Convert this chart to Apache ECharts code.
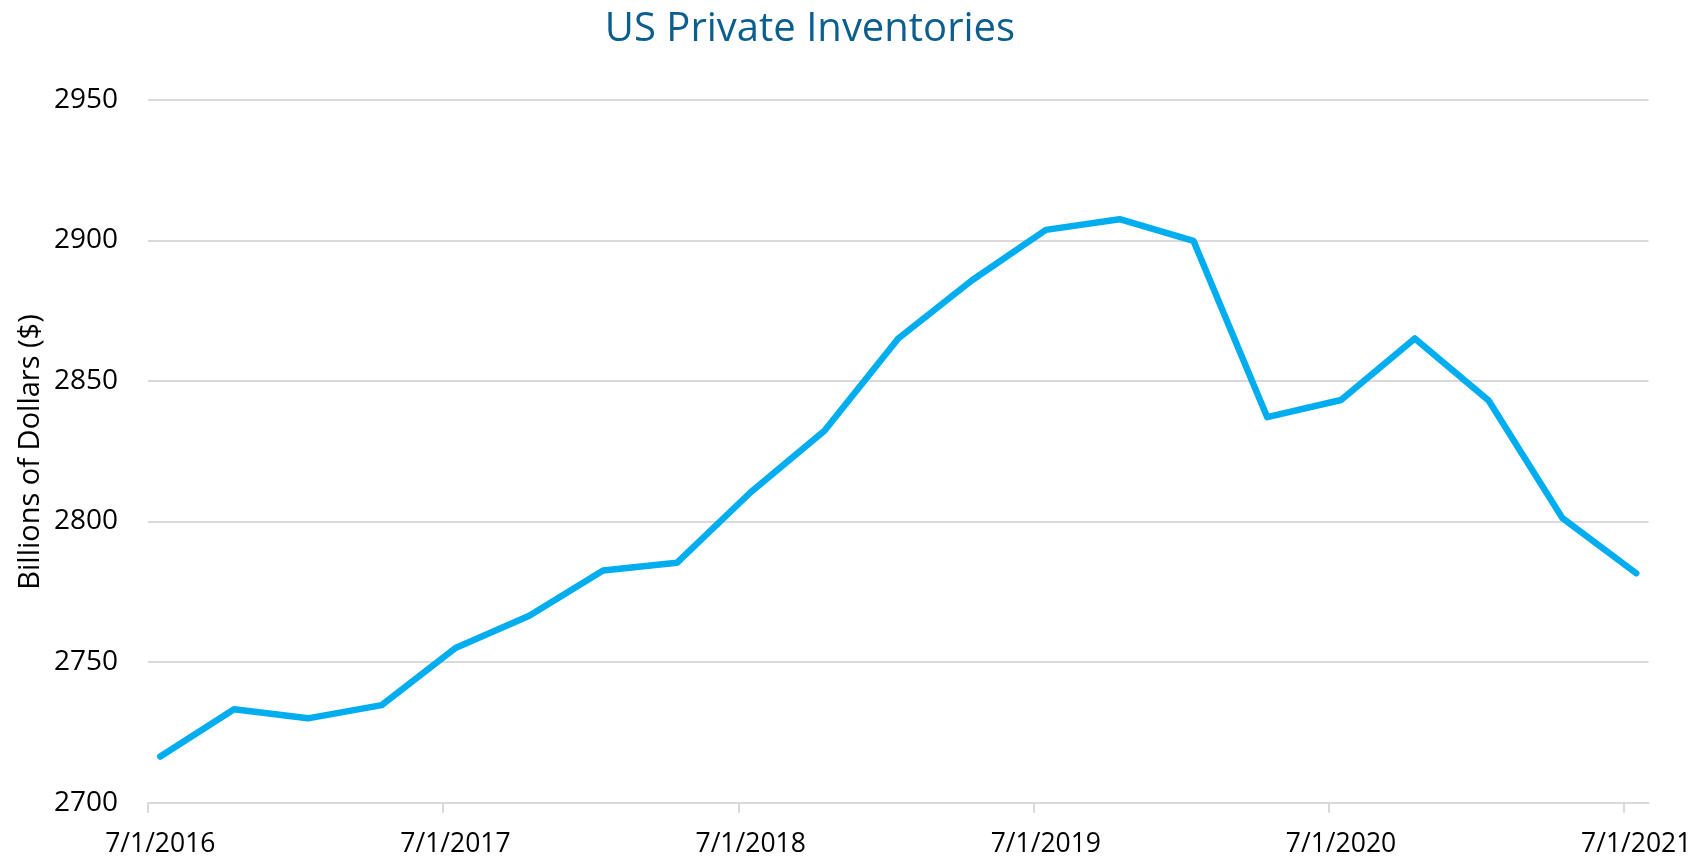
<!DOCTYPE html>
<html>
<head>
<meta charset="utf-8">
<script src="https://cdn.jsdelivr.net/npm/echarts@6/dist/echarts.min.js"></script>
<style>
html,body{margin:0;padding:0;background:#fff;}
#chart{width:1697px;height:858px;}
</style>
</head>
<body>
<div id="chart"></div>
<script>
// Quarterly observation dates (M/D/YYYY)
var dates = ['7/1/2016','10/1/2016','1/1/2017','4/1/2017','7/1/2017','10/1/2017','1/1/2018','4/1/2018',
  '7/1/2018','10/1/2018','1/1/2019','4/1/2019','7/1/2019','10/1/2019','1/1/2020','4/1/2020',
  '7/1/2020','10/1/2020','1/1/2021','4/1/2021','7/1/2021'];
// US private inventories, billions of dollars
var inventories = [2716.4, 2733.2, 2730.0, 2734.7, 2755.0, 2766.5, 2782.6, 2785.3,
  2810.4, 2832.3, 2865.1, 2885.8, 2903.7, 2907.5, 2899.8, 2837.1,
  2843.2, 2865.1, 2843.0, 2801.2, 2781.6];
var xTickLabels = ['7/1/2016','7/1/2017','7/1/2018','7/1/2019','7/1/2020','7/1/2021'];
var yTicks = [2700, 2750, 2800, 2850, 2900, 2950];

var font = '"Open Sans", Lato, sans-serif';
// month index from 7/2016 start; points and labels centered in their month slot (Excel date axis style)
function monthIndex(d){
  var p = d.split('/');
  return (parseInt(p[2],10) - 2016) * 12 + (parseInt(p[0],10) - 7);
}
var seriesData = dates.map(function(d, i){ return [monthIndex(d) + 0.5, inventories[i]]; });
var tickVals = xTickLabels.map(monthIndex);
var labelVals = tickVals.map(function(v){ return v + 0.5; });

var chart = echarts.init(document.getElementById('chart'));
chart.setOption({
  animation: false,
  backgroundColor: '#ffffff',
  title: {
    text: 'US Private Inventories',
    left: 805, top: 5, textAlign: 'center',
    textStyle: {color: '#0b5e8e', fontFamily: font, fontSize: 40, fontWeight: 'normal'}
  },
  graphic: [{
    type: 'text', x: 31, y: 452, rotation: Math.PI / 2,
    style: {text: 'Billions of Dollars ($)', fill: '#000', font: '29px ' + font,
      textAlign: 'center', textVerticalAlign: 'middle'}
  }],
  grid: {left: 148, right: 48.5, top: 99.7, bottom: 55.3, containLabel: false},
  xAxis: {
    type: 'value', min: 0, max: 61, interval: 12,
    axisLine: {show: true, lineStyle: {color: '#d9d9d9', width: 2}},
    axisTick: {show: true, customValues: tickVals, length: 10, lineStyle: {color: '#d9d9d9', width: 2}},
    axisLabel: {
      customValues: labelVals, margin: 28, color: '#000', fontFamily: font, fontSize: 26.5,
      formatter: function(v){ var i = labelVals.indexOf(v); return i >= 0 ? xTickLabels[i] : ''; }
    },
    splitLine: {show: false}
  },
  yAxis: {
    type: 'value', min: yTicks[0], max: yTicks[yTicks.length - 1], interval: 50,
    axisLine: {show: false}, axisTick: {show: false},
    axisLabel: {margin: 30, color: '#000', fontFamily: font, fontSize: 28,
      formatter: function(v){ return String(v); }},
    splitLine: {show: true, lineStyle: {color: '#d9d9d9', width: 2}}
  },
  series: [{
    type: 'line', data: seriesData, showSymbol: false, symbol: 'none',
    lineStyle: {color: '#00aeef', width: 6.5, cap: 'round', join: 'round'},
    z: 5
  }]
});
</script>
</body>
</html>
